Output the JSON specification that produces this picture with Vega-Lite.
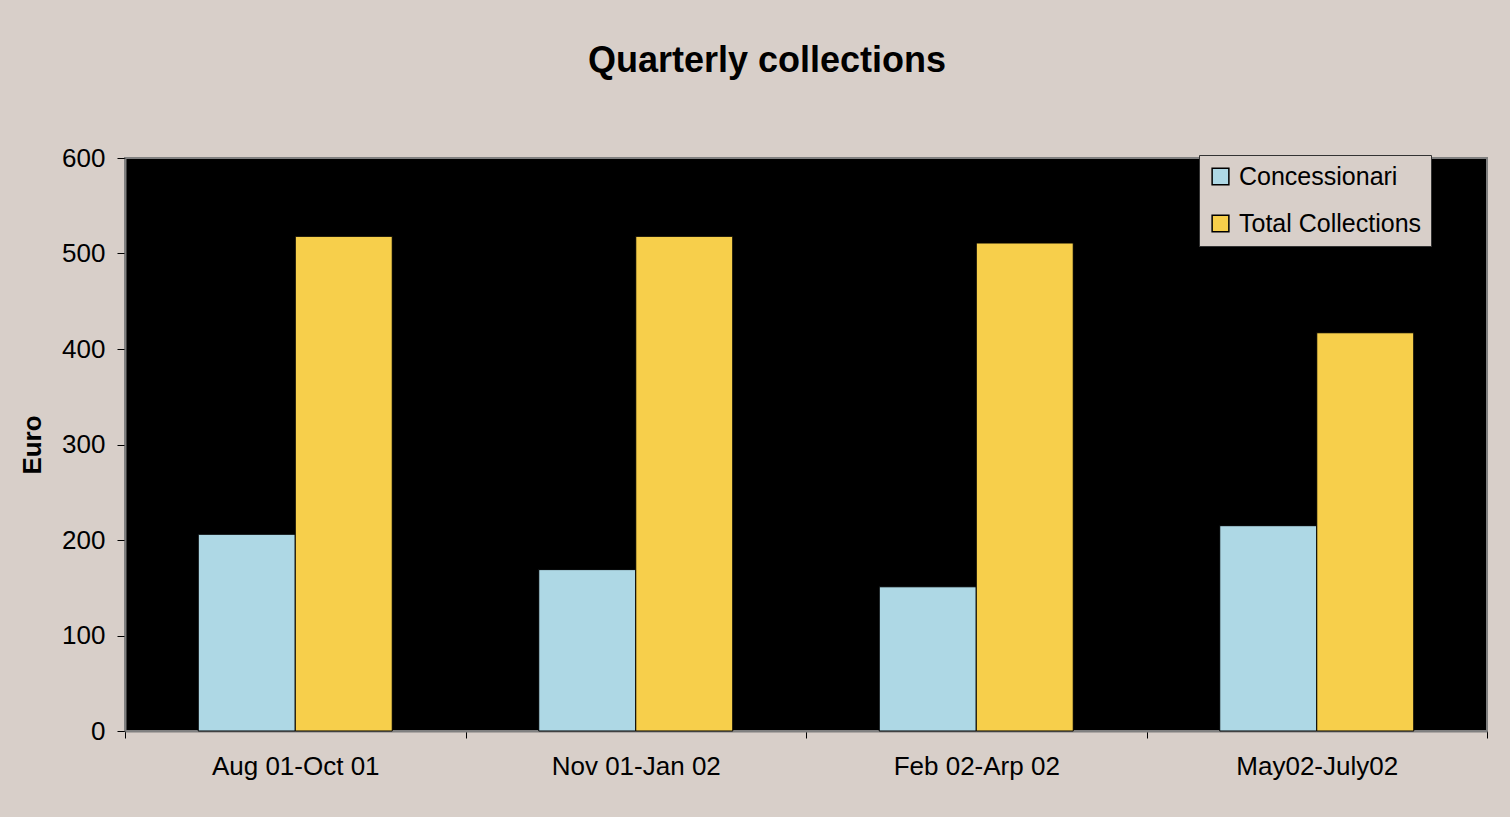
{
  "$schema": "https://vega.github.io/schema/vega-lite/v6.json",
  "autosize": "none",
  "width": 1362,
  "height": 573,
  "padding": {"left": 125, "top": 158, "right": 23, "bottom": 86},
  "background": "#d8cfc9",
  "title": {
    "text": "Quarterly collections",
    "font": "Liberation Sans",
    "fontSize": 36,
    "fontWeight": "bold",
    "color": "#000000",
    "anchor": "middle",
    "offset": 65,
    "dx": -39
  },
  "config": {
    "view": {"fill": "#000000", "stroke": "#808080", "strokeWidth": 2},
    "font": "Liberation Sans"
  },
  "data": {
    "values": [
      {"period": "Aug 01-Oct 01", "series": "Concessionari", "euro": 206},
      {"period": "Aug 01-Oct 01", "series": "Total Collections", "euro": 518},
      {"period": "Nov 01-Jan 02", "series": "Concessionari", "euro": 169},
      {"period": "Nov 01-Jan 02", "series": "Total Collections", "euro": 518},
      {"period": "Feb 02-Arp 02", "series": "Concessionari", "euro": 151},
      {"period": "Feb 02-Arp 02", "series": "Total Collections", "euro": 511},
      {"period": "May02-July02", "series": "Concessionari", "euro": 215},
      {"period": "May02-July02", "series": "Total Collections", "euro": 417}
    ]
  },
  "mark": {"type": "bar", "stroke": "#000000", "strokeWidth": 1},
  "encoding": {
    "x": {
      "field": "period",
      "type": "nominal",
      "sort": null,
      "title": null,
      "scale": {"paddingInner": 0, "paddingOuter": 0},
      "axis": {
        "labelAngle": 0,
        "labelFontSize": 26,
        "labelColor": "#000000",
        "labelPadding": 15,
        "tickBand": "extent",
        "tickSize": 7,
        "tickColor": "#000000",
        "domainColor": "#808080",
        "domainWidth": 2
      }
    },
    "xOffset": {"field": "series", "type": "nominal", "scale": {"paddingInner": 0, "paddingOuter": 0.755}},
    "y": {
      "field": "euro",
      "type": "quantitative",
      "title": "Euro",
      "scale": {"domain": [0, 600], "nice": false},
      "axis": {
        "values": [0, 100, 200, 300, 400, 500, 600],
        "grid": false,
        "labelFontSize": 26,
        "labelColor": "#000000",
        "labelPadding": 12,
        "tickSize": 8,
        "tickColor": "#000000",
        "domainColor": "#808080",
        "domainWidth": 2,
        "titleFontSize": 26,
        "titleFontWeight": "bold",
        "titleColor": "#000000",
        "titlePadding": 16
      }
    },
    "color": {
      "field": "series",
      "type": "nominal",
      "scale": {"domain": ["Concessionari", "Total Collections"], "range": ["#aed8e5", "#f7cf4b"]},
      "legend": {
        "title": null,
        "orient": "none",
        "legendX": 1074,
        "legendY": -3,
        "fillColor": "#d8cfc9",
        "strokeColor": "#333333",
        "padding": 9,
        "symbolType": "square",
        "symbolSize": 280,
        "symbolStrokeColor": "#000000",
        "symbolStrokeWidth": 1.5,
        "symbolOpacity": 1,
        "labelFontSize": 25,
        "labelColor": "#000000",
        "labelOffset": 6,
        "rowPadding": 21,
        "labelLimit": 400
      }
    }
  }
}
